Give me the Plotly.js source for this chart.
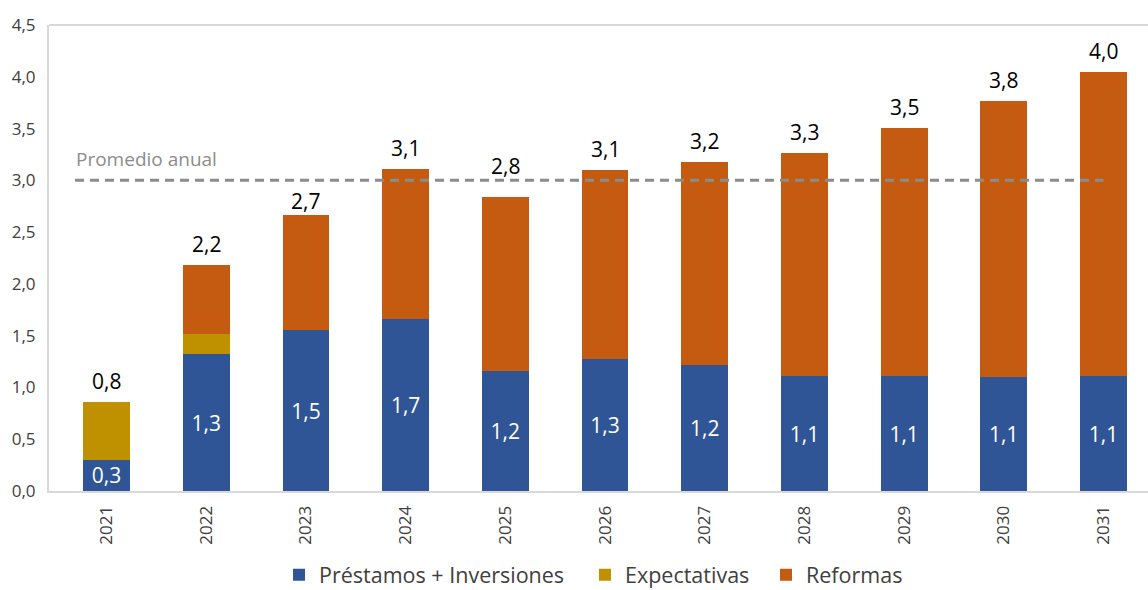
<!DOCTYPE html>
<html>
<head>
<meta charset="utf-8">
<script src="https://cdn.plot.ly/plotly-3.0.1.min.js"></script>
<style>html,body{margin:0;padding:0;background:#fff;}#chart{width:1148px;height:590px;}</style>
</head>
<body>
<div id="chart"></div>
<script>
const years = ['2021','2022','2023','2024','2025','2026','2027','2028','2029','2030','2031'];
const prestamos = [0.30, 1.32, 1.55, 1.66, 1.16, 1.27, 1.22, 1.11, 1.11, 1.10, 1.11];
const expectativas = [0.56, 0.20, 0, 0, 0, 0, 0, 0, 0, 0, 0];
const reformas = [0, 0.66, 1.12, 1.45, 1.68, 1.83, 1.96, 2.15, 2.40, 2.67, 2.94];
const prestamosLabels = ['0,3','1,3','1,5','1,7','1,2','1,3','1,2','1,1','1,1','1,1','1,1'];
const totalLabels = ['0,8','2,2','2,7','3,1','2,8','3,1','3,2','3,3','3,5','3,8','4,0'];
const promedio = 3.0;
const promedioLabel = 'Promedio anual';

const totals = years.map((_, i) => prestamos[i] + expectativas[i] + reformas[i]);
const FONT = '"Open Sans", "DejaVu Sans", sans-serif';

// label placement tweaks (the original nudges two total labels away from the average line)
const labelNudge = {'2023': -7, '2025': 10};

const traces = [
  {type:'bar', name:'Préstamos + Inversiones', legend:'legend', x:years, y:prestamos, marker:{color:'#2F5597'},
   text:prestamosLabels, texttemplate:'%{text}', textposition:'inside', insidetextanchor:'middle',
   constraintext:'none', textangle:0,
   textfont:{color:'#ffffff', size:21, family:FONT}, width:0.47, hoverinfo:'skip'},
  {type:'bar', name:'Expectativas', legend:'legend2', x:years, y:expectativas, marker:{color:'#BF9000'},
   width:0.47, textposition:'none', hoverinfo:'skip'},
  {type:'bar', name:'Reformas', legend:'legend3', x:years, y:reformas, marker:{color:'#C55A11'},
   width:0.47, textposition:'none', hoverinfo:'skip'}
];

const totalAnnotations = years.map((yr, i) => ({
  xref:'x', yref:'y', x:i, y:totals[i], yshift:21 + (labelNudge[yr] || 0), text:totalLabels[i], showarrow:false,
  xanchor:'center', yanchor:'middle', font:{size:21, color:'#000000', family:FONT}
}));

function legendAt(xpaper) {
  return {orientation:'h', x:xpaper, xanchor:'left', y:-0.180, yanchor:'middle',
    font:{size:21.5, color:'#404040', family:FONT}, itemwidth:30, bgcolor:'rgba(0,0,0,0)'};
}

const layout = {
  width:1148, height:590,
  margin:{l:49, r:0, t:25, b:99, autoexpand:false},
  paper_bgcolor:'#ffffff', plot_bgcolor:'#ffffff',
  separators:',.',
  barmode:'stack',
  font:{family:FONT, color:'#404040'},
  showlegend:true,
  legend:legendAt(0.2093),
  legend2:legendAt(0.4877),
  legend3:legendAt(0.6524),
  xaxis:{type:'category', range:[-0.577, 10.446], tickangle:-90, showgrid:false,
    showline:true, linecolor:'#d9d9d9', linewidth:2, ticks:'', zeroline:false,
    tickfont:{size:17, color:'#404040', family:FONT}, ticklabelstandoff:6},
  yaxis:{range:[0,4.5], dtick:0.5, tickformat:'.1f', showgrid:false, zeroline:false,
    showline:true, linecolor:'#d9d9d9', linewidth:2, ticks:'',
    tickfont:{size:17, color:'#404040', family:FONT}, ticklabelstandoff:8},
  shapes:[
    {type:'line', xref:'paper', yref:'paper', x0:0, x1:1, y0:1, y1:1, line:{color:'#d9d9d9', width:2}},
    {type:'line', xref:'x', yref:'y', x0:-0.316, x1:10.0, y0:promedio, y1:promedio,
     line:{color:'#8c8c8c', width:3, dash:'9px,6px'}}
  ],
  annotations:[
    {xref:'x', yref:'y', x:-0.33, y:promedio, yshift:21, text:promedioLabel, showarrow:false,
     xanchor:'left', yanchor:'middle', font:{size:19, color:'#8c8c8c', family:FONT}}
  ].concat(totalAnnotations)
};

Plotly.newPlot('chart', traces, layout, {displayModeBar:false, staticPlot:true});
</script>
</body>
</html>
